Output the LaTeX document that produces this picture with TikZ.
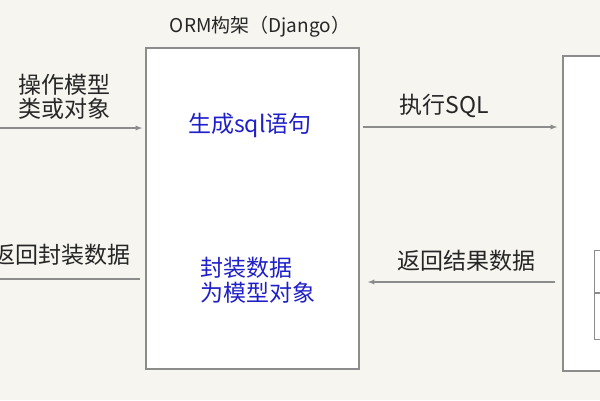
\documentclass[tikz,border=0pt]{standalone}
\usepackage{fontspec}
\setmainfont{Noto Sans CJK SC}
\usetikzlibrary{arrows,positioning}
\definecolor{bgcol}{HTML}{F6F5F0}
\definecolor{linegray}{HTML}{8C8C8C}
\definecolor{textblue}{HTML}{2020C8}

\begin{document}
\begin{tikzpicture}[x=1pt, y=-1pt,
    box/.style={draw=linegray, line width=1.5pt, fill=white, inner sep=0pt},
    flow/.style={draw=linegray, line width=1.3pt, -latex},
    label/.style={font=\fontsize{23}{24}\selectfont, inner sep=0pt, text=black!85},
    inner/.style={label, text=textblue}]
    % Canvas
    \clip (0,0) rectangle (600,400);
    \fill[bgcol] (0,0) rectangle (600,400);

    % ORM box and title
    \node[box, minimum width=213, minimum height=321] (orm) at (252.5,208.5) {};
    \node[label, font=\fontsize{19}{20}\selectfont] (title) at (260,27) {ORM构架（Django）};
    \node[inner] (gensql) at (250,125) {生成sql语句};
    \node[inner, align=left, anchor=west, font=\fontsize{23}{25}\selectfont] (pack) at (200,280) {封装数据\\为模型对象};

    % Database box with table
    \node[box, minimum width=150, minimum height=315] (db) at (638,213.5) {};
    \node[box, line width=1.2pt, minimum width=60, minimum height=89, anchor=north west] (tbl) at (594,250) {};
    \draw[linegray, line width=1.2pt] (tbl.west |- 0,293) -- (tbl.east |- 0,293);

    % Labels
    \node[label, align=left] (ops) at (64,97) {操作模型\\类或对象};
    \node[label] (ret) at (62,255) {返回封装数据};
    \node[label] (exec) at (444,106) {执行SQL};
    \node[label] (res) at (466,261) {返回结果数据};

    % Arrows
    \coordinate (src) at (-20,128);
    \coordinate (dst) at (-20,279);
    \draw[flow, shorten >=3pt] (src) -- (orm.west |- src);
    \draw[flow, shorten <=3pt, shorten >=5pt] (orm.east |- 0,127) -- (db.west |- 0,127);
    \draw[flow, shorten <=7pt, shorten >=8pt] (db.west |- 0,282) -- (orm.east |- 0,282);
    \draw[flow, shorten <=5pt] (orm.west |- dst) -- (dst);
\end{tikzpicture}
\end{document}
